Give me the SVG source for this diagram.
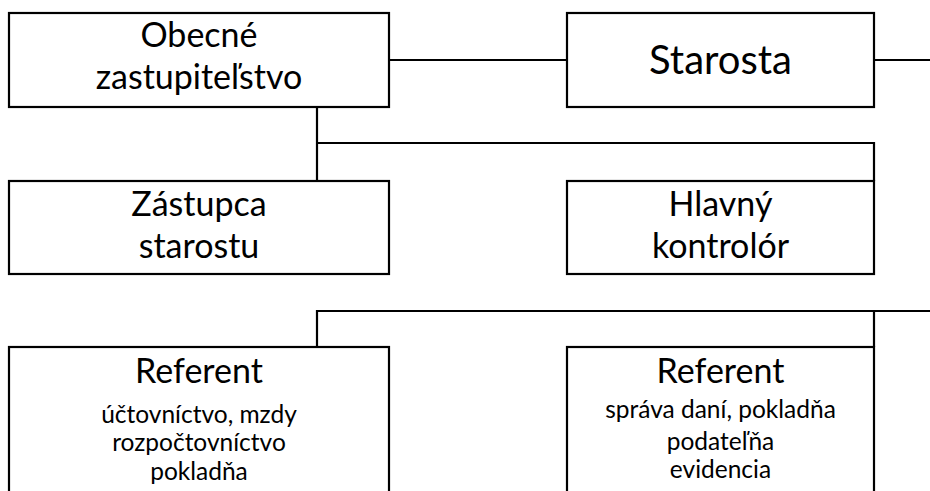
<svg xmlns="http://www.w3.org/2000/svg" width="930" height="491" viewBox="0 0 930 491">
<style>
.box{fill:#fff;stroke:#000;stroke-width:2.2}
.ln{fill:none;stroke:#000;stroke-width:2.2}
text{font-family:Lato,"Open Sans","Liberation Sans",sans-serif;fill:#000;text-anchor:middle}
.big{font-size:34px}
.xl{font-size:40px}
.sm{font-size:24.5px}
</style>
<rect width="930" height="491" fill="#fff"/>
<g id="connectors">
<path class="ln" d="M389 60H567M874 60H930"/>
<path class="ln" d="M317 107V181M317 143H874V181"/>
<path class="ln" d="M317 347V311H930M874 311V347"/>
</g>
<g id="n1"><rect class="box" x="9" y="13" width="380" height="94"/>
<text class="big" x="199" y="47">Obecné</text><text class="big" x="199" y="89">zastupiteľstvo</text></g>
<g id="n2"><rect class="box" x="567" y="13" width="307" height="94"/>
<text class="xl" x="720.5" y="74">Starosta</text></g>
<g id="n3"><rect class="box" x="9" y="181" width="380" height="93"/>
<text class="big" x="199" y="216">Zástupca</text><text class="big" x="199" y="258">starostu</text></g>
<g id="n4"><rect class="box" x="567" y="181" width="307" height="93"/>
<text class="big" x="720.5" y="216">Hlavný</text><text class="big" x="720.5" y="258">kontrolór</text></g>
<g id="n5"><rect class="box" x="9" y="347" width="380" height="160"/>
<text class="big" x="199" y="383">Referent</text>
<text class="sm" x="199" y="423">účtovníctvo, mzdy</text>
<text class="sm" x="199" y="451">rozpočtovníctvo</text>
<text class="sm" x="199" y="480">pokladňa</text></g>
<g id="n6"><rect class="box" x="567" y="347" width="307" height="160"/>
<text class="big" x="720.5" y="383">Referent</text>
<text class="sm" x="720.5" y="418">správa daní, pokladňa</text>
<text class="sm" x="720.5" y="450">podateľňa</text>
<text class="sm" x="720.5" y="478">evidencia</text></g>
</svg>
